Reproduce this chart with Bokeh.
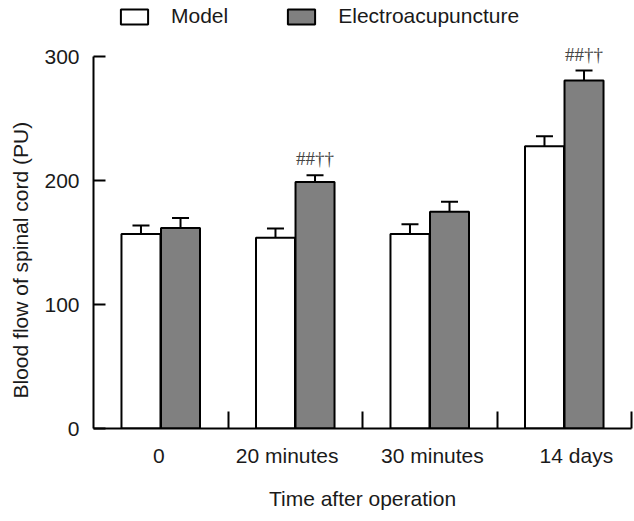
from bokeh.plotting import figure
from bokeh.models import (ColumnDataSource, Whisker, TeeHead, FixedTicker,
                          Legend, LegendItem, Range1d, LabelSet, Title)
from bokeh.embed import file_html
from bokeh.resources import INLINE

# ---- data ----
categories = ["0", "20 minutes", "30 minutes", "14 days"]
series_names = ["Model", "Electroacupuncture"]
model = [157, 154, 157, 228]
model_err = [7, 7.5, 8, 8]
ea = [162, 199, 175, 281]
ea_err = [8, 5.5, 8, 8]
ea_marks = ["", "##\u2020\u2020", "", "##\u2020\u2020"]
y_ticks = [0, 100, 200, 300]
x_title = "Time after operation"
y_title = "Blood flow of spinal cord (PU)"

# ---- layout constants ----
FONT = "Liberation Sans"
FS = "21px"
BAR_W = 0.29
OFF = 0.147
TXT = "#1a1a1a"
LABEL_SHIFT = [-0.015, -0.06, 0.02, 0.09]   # tick-label nudges (category units)
Y_AXIS_END = 300
Y_VIEW_END = 345.6      # extra headroom so legend/marks above axis are drawn

centers = [i + 0.5 for i in range(len(categories))]
label_pos = [c + s for c, s in zip(centers, LABEL_SHIFT)]
src = ColumnDataSource(dict(
    xm=[c - OFF for c in centers],
    xe=[c + OFF for c in centers],
    model=model,
    ea=ea,
    model_up=[m + e for m, e in zip(model, model_err)],
    ea_up=[m + e for m, e in zip(ea, ea_err)],
    marks=ea_marks,
))

p = figure(width=634, height=513, output_backend="svg", toolbar_location=None,
           x_range=Range1d(0, len(categories)), y_range=Range1d(0, Y_VIEW_END),
           min_border_left=93, min_border_right=3, min_border_top=0,
           min_border_bottom=85)
p.outline_line_color = None
p.xgrid.visible = False
p.ygrid.visible = False
p.background_fill_color = "white"
p.border_fill_color = "white"

r_model = p.vbar(x="xm", top="model", bottom=0, width=BAR_W, source=src,
                 fill_color="white", line_color="black", line_width=2)
r_ea = p.vbar(x="xe", top="ea", bottom=0, width=BAR_W, source=src,
              fill_color="#808080", line_color="black", line_width=2)

for base, lo, up in (("xm", "model", "model_up"), ("xe", "ea", "ea_up")):
    w = Whisker(source=src, base=base, lower=lo, upper=up, dimension="height",
                line_color="black", line_width=2, lower_head=None,
                upper_head=TeeHead(size=17, line_color="black", line_width=2))
    p.add_layout(w)

marks = LabelSet(x="xe", y="ea_up", text="marks", source=src,
                 text_font="Liberation Serif", text_font_size="19px",
                 text_align="center", text_baseline="bottom", y_offset=6,
                 text_color="#444444")
p.add_layout(marks)

# x axis
xa = p.xaxis[0]
xa.ticker = FixedTicker(ticks=label_pos, minor_ticks=[1, 2, 3, 4])
xa.major_label_overrides = {c: n for c, n in zip(label_pos, categories)}
xa.major_tick_in = 0
xa.major_tick_out = 0
xa.minor_tick_in = 17
xa.minor_tick_out = 0
xa.minor_tick_line_width = 2
xa.axis_line_width = 2
xa.axis_label = x_title
xa.axis_label_text_font = FONT
xa.axis_label_text_font_size = FS
xa.axis_label_text_font_style = "normal"
xa.axis_label_text_color = TXT
xa.axis_label_standoff = 17
xa.major_label_text_font = FONT
xa.major_label_text_font_size = FS
xa.major_label_text_color = TXT
xa.major_label_standoff = 15

# y axis
ya = p.yaxis[0]
ya.bounds = (0, Y_AXIS_END)
ya.ticker = FixedTicker(ticks=y_ticks, minor_ticks=[])
ya.major_tick_in = 12
ya.major_tick_out = 0
ya.major_tick_line_width = 2
ya.axis_line_width = 2
ya.major_label_text_font = FONT
ya.major_label_text_font_size = FS
ya.major_label_text_color = TXT
ya.major_label_standoff = 14

# y title as a side title so it can be placed along the axis
yt = Title(text=y_title, align="left", offset=30, vertical_align="top",
           standoff=16, text_font=FONT, text_font_size=FS,
           text_font_style="normal", text_color=TXT)
p.add_layout(yt, "left")

legend = Legend(items=[LegendItem(label=series_names[0], renderers=[r_model]),
                       LegendItem(label=series_names[1], renderers=[r_ea])],
                orientation="horizontal", location=(24, 400),
                glyph_width=34, glyph_height=19, label_standoff=20,
                spacing=56, padding=0, margin=0,
                border_line_color=None, background_fill_alpha=0,
                label_text_font=FONT, label_text_font_size=FS,
                label_text_color=TXT)
p.add_layout(legend)

open("out.html", "w").write(file_html(p, INLINE))
